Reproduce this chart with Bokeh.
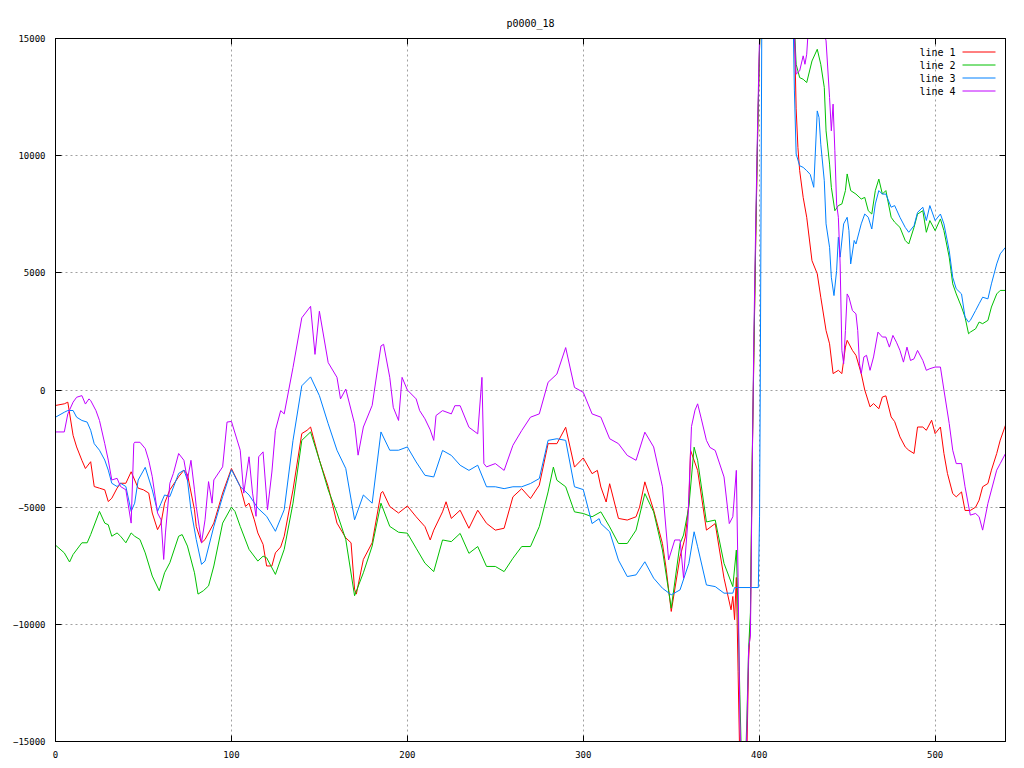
from bokeh.plotting import figure
from bokeh.models import Range1d, FixedTicker, LinearAxis, Label
from bokeh.embed import file_html
from bokeh.resources import INLINE

# ---------------- data ----------------
x_ticks = [0, 100, 200, 300, 400, 500]
y_ticks = [-15000, -10000, -5000, 0, 5000, 10000, 15000]
labels = ["line 1", "line 2", "line 3", "line 4"]
colors = ["#ff0000", "#00c000", "#0080ff", "#c000ff"]

line1_x = [0, 5, 7, 10, 12, 15, 17, 20, 22, 25, 28, 30, 32, 35, 37, 40, 43, 47, 50, 53, 55, 58, 60, 62, 65, 70, 73, 75, 79, 80,
           83, 85, 90, 95, 100, 105, 108, 110, 113, 115, 118, 120, 123, 125, 128, 130, 135, 140, 143, 145, 150, 155, 160, 165, 168,
           170, 171, 175, 180, 185, 186, 190, 195, 200, 205, 210, 213, 215, 220, 222, 225, 230, 235, 240, 245, 250, 255, 260, 265,
           270, 275, 280, 285, 290, 295, 300, 305, 308, 310, 313, 315, 320, 325, 330, 332, 335, 340, 345, 347, 350, 355, 358, 360,
           361, 365, 370, 375, 380, 384, 385, 386, 387, 388, 389, 391, 393, 394, 395, 396, 397, 398, 399, 400, 401, 405, 410, 415,
           420, 421, 422, 423, 425, 427, 430, 433, 435, 438, 440, 442, 445, 447, 449, 450, 453, 455, 458, 460, 463, 465, 468, 470,
           472, 475, 477, 480, 483, 485, 488, 490, 493, 495, 498, 500, 503, 505, 507, 510, 512, 515, 517, 520, 523, 525, 527, 530,
           532, 535, 537, 540]
line1_y = [-660, -590, -520, -1935, -2430, -3000, -3350, -3060, -4120, -4190, -4260, -4760, -4620, -4190, -3980, -3980, -3490,
           -4190, -4260, -4400, -5250, -5960, -5680, -4830, -4260, -3700, -3420, -3600, -5110, -5820,
           -6520, -6380, -5680, -4400, -3350, -4120, -4970, -4830, -5540, -6100, -6590, -7510, -7510, -6950, -6700, -6240, -4260,
           -1860, -1720, -1580, -2990, -4120, -5680, -6310, -6520,
           -8500, -8710, -7230, -6520, -4400, -4330, -4970, -5250, -4950, -5410, -5830, -6400, -5980, -5200, -4770, -5480, -5130,
           -5900, -5130, -5690, -5980, -5900, -4560, -4210,
           -4630, -4060, -2290, -2290, -1590, -3290, -2900, -3570, -3430, -4140, -4780, -4000, -5480, -5550, -5410, -5000, -3920,
           -5130, -6550, -7560, -9450, -7110, -6270, -4850,
           -2580, -3430, -5980, -5700, -8030, -9380, -8810, -9800, -8000, -12000, -16000, -17000, -15500, -11500, -10000, -3300,
           1600, 6200, 10400, 14000, 17000, 19000, 20000, 19000,
           15500, 12000, 10350, 9360, 8220, 7370, 5520, 4960, 3960, 2540, 1970, 700, 840, 700, 1830, 2120, 1690, 1480, 700, 0,
           -720, -580, -800, -300,
           -250, -1150, -1350, -2000, -2430, -2570, -2710, -1580, -1580, -1720, -1290, -1860, -1580, -2710, -3560, -4420, -4560,
           -4350, -5140, -5140, -5000, -4700, -4130, -3990,
           -3420, -2710, -2140, -1500]

line2_x = [0, 5, 8, 10, 15, 18, 20, 25, 28, 30, 32, 35, 37, 40, 43, 45, 48, 51, 55, 59, 62, 65, 70, 72, 75, 79, 81, 84, 87, 90,
           95, 100, 102, 105, 110, 115, 118, 120, 125, 130, 135, 140, 145, 150, 155, 160, 165, 170, 175, 180, 185, 190, 195, 200,
           205, 210, 215, 220, 225, 230, 235, 240, 245, 250, 255, 260, 265, 270, 275, 280, 283, 285, 290, 295, 300, 305, 310, 315,
           320, 325, 330, 335, 340, 345, 350, 355, 357, 360, 363, 365, 370, 375, 380, 385, 387, 388, 389, 390, 392, 393, 394, 395,
           396, 397, 398, 399, 400, 401, 405, 410, 415, 420, 421, 423, 425, 427, 430, 433, 435, 437, 438, 440, 441, 443, 445, 447,
           449, 450, 452, 455, 458, 460, 462, 464, 466, 468, 470, 472, 475, 477, 480, 483, 485, 488, 490, 493, 495, 497, 500, 503,
           505, 508, 510, 512, 515, 517, 519, 520, 523, 525, 527, 530, 532, 535, 537, 540]
line2_y = [-6620, -6950, -7340, -7020, -6520, -6520, -6170, -5180, -5680, -5750, -6240, -6100, -6240, -6520, -6100, -6240, -6380,
           -6950, -7940, -8570, -7800, -7370, -6240, -6170, -6660, -7800, -8710, -8570, -8360, -7510,
           -5680, -5000, -5180, -5820, -6800, -7300, -7090, -7160, -7870, -6800, -4830, -2150, -1790, -2990, -4260, -5250, -6380,
           -8780, -7800, -6660, -4830, -5820, -6070, -6110,
           -6750, -7390, -7750, -6400, -6470, -6120, -6970, -6680, -7530, -7530, -7750, -7180, -6680, -6680, -5830, -4350, -3290,
           -3850, -4130, -5200, -5270, -5410, -5200, -5840,
           -6550, -6550, -5980, -4420, -5200, -6830, -9310, -6550, -6190, -4990, -2440, -3000, -5630, -5550, -7400, -8390, -6830,
           -9500, -13000, -16000, -16500, -14000, -11000, -9500,
           -3000, 1800, 6500, 10600, 14000, 17000, 19000, 20000, 19000, 15500, 13900, 13330, 13260, 13120, 14040, 14540, 13900,
           12910, 11060, 9640, 8650, 7650, 7870, 7940,
           8510, 9220, 8510, 8360, 8150, 8220, 7650, 7510, 8510, 9000, 8360, 8510, 7370, 7160, 6940, 6380, 6230, 6940, 7510, 7650,
           6730, 7230, 6800, 7300,
           6800, 5670, 4530, 4100, 3540, 3110, 2400, 2470, 2610, 2900, 2830, 2970, 3540, 4100, 4250, 4250]

line3_x = [0, 5, 7, 10, 12, 15, 18, 20, 22, 25, 28, 30, 32, 35, 37, 40, 43, 45, 47, 51, 55, 58, 60, 62, 65, 70, 73, 75, 77, 80,
           83, 85, 90, 95, 100, 105, 110, 115, 120, 125, 130, 135, 140, 145, 150, 155, 160, 165, 170, 175, 180, 185, 190, 195,
           200, 205, 210, 215, 220, 225, 230, 235, 240, 245, 250, 255, 260, 265, 270, 275, 280, 285, 290, 295, 300, 305, 309, 310,
           315, 320, 325, 330, 335, 340, 345, 350, 355, 360, 363, 365, 370, 375, 380, 385, 386, 399.5, 400.2, 400.6, 401.5, 405,
           410, 415, 419, 420, 421, 423, 425, 427, 429, 431, 433, 434, 435, 437, 438, 440, 441, 442.5, 444, 445, 446, 448, 450,
           451, 452, 454, 455, 458, 460, 462, 464, 466, 468, 470, 472, 475, 477, 480, 483, 485, 488, 490, 493, 495, 497, 500, 503,
           505, 508, 510, 512, 515, 517, 519, 520, 523, 525, 527, 530, 532, 535, 537, 540]
line3_y = [-1160, -950, -875, -875, -1160, -1300, -1370, -1720, -2290, -2570, -2990, -3420, -3980, -4120, -3980, -4120, -5180,
           -4830, -3840, -3300, -4260, -5180, -4830, -4480, -4550, -3560, -3420, -3840, -5110, -6380,
           -7440, -7300, -5820, -4550, -3400, -4120, -4480, -5040, -5390, -6030, -5110, -2150, 180, 560, -240, -1440, -2570, -3350,
           -5540, -4480, -4830, -1790, -2570, -2570,
           -2430, -3070, -3640, -3710, -2580, -2790, -3210, -3430, -3210, -4130, -4130, -4210, -4130, -4130, -3990, -3780, -2150,
           -2080, -2150, -4130, -4250, -5700, -5490, -5700,
           -6050, -7260, -7960, -7890, -7330, -8030, -8460, -8740, -8530, -7400, -6050, -6690, -8320, -8390, -8670, -8670, -8430,
           -8430, -5400, 0, 16000, 18000,
           19000, 18500, 17000, 12800, 10070, 9570, 9500, 9360, 9200, 8650, 11910, 11630, 10490, 8930, 7090, 6090, 4810, 4030,
           5100, 6520, 5670, 7090, 7370,
           6800, 5380, 6380, 6230, 7090, 7510, 7370, 6870, 7940, 8510, 8360, 8360, 7800, 7870, 7370, 6940, 6730, 7010, 7580, 7800,
           7230, 7870, 7230, 7510,
           7090, 5950, 4810, 4320, 4100, 3110, 2900, 2970, 3390, 3680, 3960, 3890, 4530, 5380, 5810, 6090]

line4_x = [0, 5, 7, 10, 12, 15, 17, 19, 20, 23, 25, 28, 30, 32, 35, 37, 40, 43, 44.5, 45, 48, 51, 53, 55, 58, 60, 61.5, 62.5,
           65, 67, 70, 73, 75, 77, 79, 80, 83, 85, 87, 89, 90, 95, 97.5, 100, 105, 107, 110, 112, 114, 115.5, 118, 120.5, 123,
           125, 128, 130, 135, 140, 145, 147.5, 150, 155, 160, 162, 165, 170, 172, 175, 180, 185, 186.5, 190, 192, 195, 197, 200,
           205, 207, 210, 213, 215, 216.3, 220, 225, 227, 230, 235, 240, 242.4, 243.5, 245, 250, 255, 260, 265, 270, 275, 280,
           285, 290, 295, 300, 305, 310, 315, 320, 325, 330, 335, 340, 345, 348.5, 352, 355, 357, 359.5, 361.5, 363.5, 365, 367,
           370, 372, 375, 380, 383, 385, 387, 388, 389, 390, 392, 393, 394, 395, 396, 397, 398, 399, 400, 401, 405, 410, 415, 420,
           421, 423, 425, 426, 427, 428, 430, 435, 437, 438, 440, 441, 442, 443, 444, 445, 446, 447, 448, 449, 450, 451, 453, 455,
           456, 457, 458, 459.5, 461, 463, 465, 467.5, 470, 472, 474, 476, 478, 480, 482, 484, 486, 488, 490, 493, 495, 497, 500,
           503, 505, 508, 510, 512, 515, 517, 520, 523, 525, 527, 530, 532, 535, 537, 540]
line4_y = [-1790, -1790, -1020, -520, -310, -240, -600, -380, -450, -880, -1300, -2290, -2990, -3840, -3770, -4120, -4260, -5680,
           -2290, -2230, -2230, -2500, -3000, -3700, -5250, -5540, -7230, -6100,
           -3980, -3560, -2710, -3000, -3840, -3000, -4260, -4970, -6520, -5540, -3910, -4830, -3840, -3280, -1370, -1340, -2570,
           -4400, -2850, -4400, -5390, -2850, -2640, -5110, -3500,
           -1720, -880, -1020, 960, 3080, 3570, 1520, 3360, 1170, 540, -380, 40, -1440, -2780, -1580, -660, 1880, 1950, 540, -740,
           -1300, 540, 0,
           -380, -880, -1230, -1700, -2150, -1090, -880, -1020, -670, -670, -1590, -1870, 540, -3140, -3280, -3140, -3430, -2360,
           -1730, -1160, -1020, 330,
           680, 1810, 110, -100, -1020, -1160, -2080, -2290, -2790, -3000, -1800, -2430, -4130, -7250, -6400, -6400, -8030, -5550,
           -1560, -860, -590, -1200,
           -2150, -2450, -2580, -3710, -5700, -5410, -3430, -8000, -14000, -17000, -17000, -14500, -11000, -10500, -3500, 2500,
           7000, 11000, 14500, 17000, 19500, 20000, 19000, 15200,
           13480, 13620, 14260, 13900, 14330, 15500, 16500, 16500, 15200, 14900, 12480, 11060, 12200, 10210, 7940, 7370, 5380,
           1690, 1120, 2540, 4100, 3960, 3390, 3250,
           2540, 1120, 700, 1410, 1480, 840, 1410, 2470, 2260, 2260, 1830, 2330, 2040, 1690, 1190, 1830, 1260, 1330, 1690, 1260,
           840, 910, 980,
           980, 0, -1430, -2570, -3140, -3140, -4130, -5340, -5270, -5410, -5980, -4840, -4270, -3420, -3140, -2710]

series_x = [line1_x, line2_x, line3_x, line4_x]
series_y = [line1_y, line2_y, line3_y, line4_y]

# ---------------- figure ----------------
W, H = 1016, 760
FL, FT, FR, FB = 55, 38, 1005, 741   # frame edges in page pixels
p = figure(width=W, height=H, output_backend="svg", toolbar_location=None,
           x_range=Range1d(0, 540), y_range=Range1d(-15000, 15000),
           min_border_left=FL, min_border_right=W - FR, min_border_top=FT, min_border_bottom=H - FB,
           background_fill_color="white", border_fill_color="white")

FONT = "DejaVu Sans Mono"
p.title.text = "p0000_18"
p.title.align = "center"
p.title.text_font = FONT
p.title.text_font_size = "10px"
p.title.text_font_style = "normal"
p.title.text_color = "black"
p.title.standoff = 20

p.outline_line_color = "black"
p.outline_line_width = 1

for ax in p.axis:
    ax.major_tick_in = 6
    ax.major_tick_out = 0
    ax.minor_tick_line_color = None
    ax.axis_line_color = "black"
    ax.major_tick_line_color = "black"
    ax.major_label_text_font = FONT
    ax.major_label_text_font_size = "9px"
    ax.major_label_text_color = "black"
p.xaxis.major_label_standoff = 9
p.yaxis.major_label_standoff = 10
p.xaxis.ticker = FixedTicker(ticks=x_ticks)
p.yaxis.ticker = FixedTicker(ticks=y_ticks)

# mirrored tick marks (top / right) without labels
top_ax = LinearAxis(ticker=FixedTicker(ticks=x_ticks), major_tick_in=6, major_tick_out=0,
                    minor_tick_line_color=None, major_label_overrides={t: "" for t in x_ticks},
                    major_label_standoff=0, major_label_text_font_size="1px")
right_ax = LinearAxis(ticker=FixedTicker(ticks=y_ticks), major_tick_in=6, major_tick_out=0,
                      minor_tick_line_color=None, major_label_overrides={t: "" for t in y_ticks},
                      major_label_standoff=0, major_label_text_font_size="1px")
p.add_layout(top_ax, "above")
p.add_layout(right_ax, "right")

p.xgrid.ticker = FixedTicker(ticks=x_ticks)
p.ygrid.ticker = FixedTicker(ticks=y_ticks)
for g in (p.xgrid, p.ygrid):
    g.grid_line_color = "#a0a0a0"
    g.grid_line_dash = "2 3"
    g.grid_line_width = 1

for xs, ys, c in zip(series_x, series_y, colors):
    p.line(xs, ys, line_color=c, line_width=1)

# gnuplot-style key (text, then line sample), placed in data units from page pixels
def dx(px):
    return (px - FL) * 540.0 / (FR - FL)

def dy(py):
    return 15000.0 - (py - FT) * 30000.0 / (FB - FT)

key_rows = [51.5 + 13 * i for i in range(len(labels))]
for lab, yy, c in zip(labels, key_rows, colors):
    p.add_layout(Label(x=dx(955), y=dy(yy), text=lab, text_align="right", text_baseline="middle",
                       text_font=FONT, text_font_size="10px", text_color="black"))
    p.line([dx(962), dx(995)], [dy(yy), dy(yy)], line_color=c, line_width=1)

open("out.html", "w").write(file_html(p, INLINE))
